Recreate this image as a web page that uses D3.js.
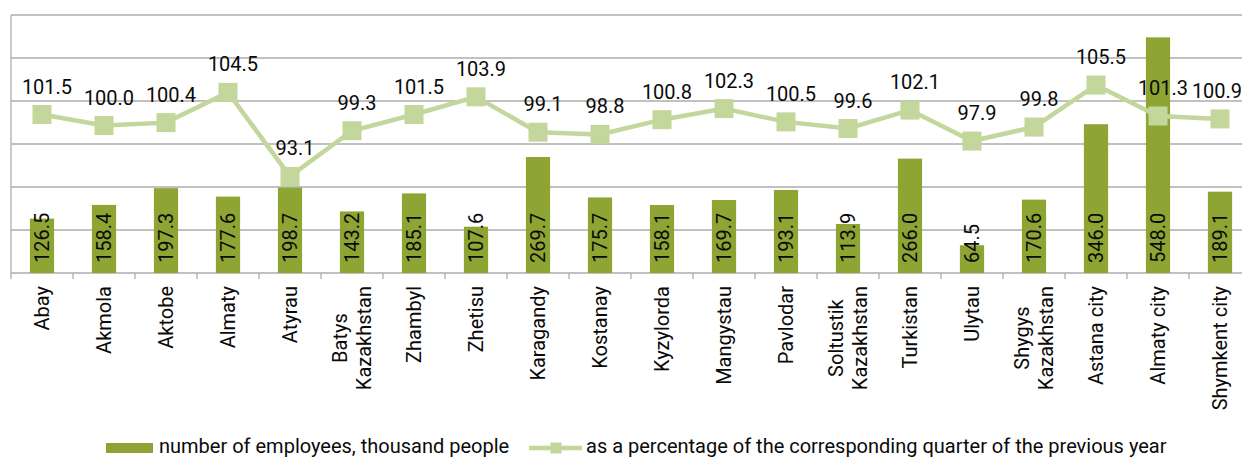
<!DOCTYPE html>
<html lang="en">
<head>
    <meta charset="UTF-8">
    <script src="https://d3js.org/d3.v7.min.js"></script>
    <title>Employees by region</title>
    <style>
        body { margin: 0; background: #fff; }
        svg text { font-family: Roboto, sans-serif; fill: #0a0a0a; font-size: 20px; }
    </style>
</head>
<body>
<svg class="chart"></svg>

<script>
    let regions = ['Abay', 'Akmola', 'Aktobe', 'Almaty', 'Atyrau', 'Batys Kazakhstan', 'Zhambyl', 'Zhetisu',
        'Karagandy', 'Kostanay', 'Kyzylorda', 'Mangystau', 'Pavlodar', 'Soltustik Kazakhstan', 'Turkistan',
        'Ulytau', 'Shygys Kazakhstan', 'Astana city', 'Almaty city', 'Shymkent city'];
    let employees = [126.5, 158.4, 197.3, 177.6, 198.7, 143.2, 185.1, 107.6, 269.7, 175.7,
        158.1, 169.7, 193.1, 113.9, 266.0, 64.5, 170.6, 346.0, 548.0, 189.1];
    let percent = [101.5, 100.0, 100.4, 104.5, 93.1, 99.3, 101.5, 103.9, 99.1, 98.8,
        100.8, 102.3, 100.5, 99.6, 102.1, 97.9, 99.8, 105.5, 101.3, 100.9];
    let leftTicks = [0, 100, 200, 300, 400, 500, 600];
    let legendNames = ['number of employees, thousand people',
        'as a percentage of the corresponding quarter of the previous year'];

    let chart_width = 1242, chart_height = 457;
    let plotLeft = 11, plotTop = 15, plotBottom = 273;
    let bandW = 62;
    let barColor = '#8ea433', lineColor = '#c3d69b', gridColor = '#acacac';

    let svg = d3.select('.chart').attr('width', chart_width).attr('height', chart_height);

    let x = d3.scaleBand()
        .domain(regions)
        .range([plotLeft, plotLeft + bandW * regions.length])
        .paddingInner(0.61)
        .paddingOuter(0.305);

    let y = d3.scaleLinear().domain([0, 600]).range([plotBottom, plotTop]);
    let y2 = d3.scaleLinear().domain([80, 115]).range([plotBottom, plotTop]);

    // grid lines
    svg.append('g').selectAll('line')
        .data(leftTicks)
        .enter()
        .append('line')
        .attr('x1', plotLeft).attr('x2', chart_width)
        .attr('y1', d => y(d)).attr('y2', d => y(d))
        .style('stroke', gridColor).style('stroke-width', 1.3);

    svg.append('line')
        .attr('x1', plotLeft).attr('x2', plotLeft)
        .attr('y1', plotTop).attr('y2', plotBottom)
        .style('stroke', gridColor).style('stroke-width', 1.3);

    // category tick marks
    svg.append('g').selectAll('line')
        .data(d3.range(regions.length + 1))
        .enter()
        .append('line')
        .attr('x1', i => plotLeft + i * bandW).attr('x2', i => plotLeft + i * bandW)
        .attr('y1', plotBottom).attr('y2', plotBottom + 6)
        .style('stroke', gridColor).style('stroke-width', 1.3);

    // bars
    svg.append('g').selectAll('rect')
        .data(employees)
        .enter()
        .append('rect')
        .attr('x', (d, i) => x(regions[i]))
        .attr('width', x.bandwidth())
        .attr('y', d => y(d))
        .attr('height', d => plotBottom - y(d))
        .style('fill', barColor);

    // bar labels
    svg.append('g').selectAll('text')
        .data(employees)
        .enter()
        .append('text')
        .attr('transform', (d, i) => 'translate(' + (x(regions[i]) + x.bandwidth() / 2) + ',263) rotate(-90)')
        .attr('dy', '0.35em')
        .text(d => d.toFixed(1));

    // line + markers
    let cx = (d, i) => x(regions[i]) + x.bandwidth() / 2;
    let line = d3.line().x(cx).y(d => y2(d));
    svg.append('path')
        .datum(percent)
        .attr('d', line)
        .style('fill', 'none')
        .style('stroke', lineColor)
        .style('stroke-width', 4.5);

    svg.append('g').selectAll('rect')
        .data(percent)
        .enter()
        .append('rect')
        .attr('x', (d, i) => cx(d, i) - 9.5)
        .attr('y', d => y2(d) - 9.5)
        .attr('width', 19).attr('height', 19)
        .style('fill', lineColor);

    // keep the last label from running off the right edge
    svg.append('g').selectAll('text')
        .data(percent)
        .enter()
        .append('text')
        .attr('x', (d, i) => Math.min(cx(d, i) + 5, chart_width - 25))
        .attr('y', d => y2(d) - 21)
        .attr('text-anchor', 'middle')
        .text(d => d.toFixed(1));

    // category labels, rotated
    let catG = svg.append('g').selectAll('g')
        .data(regions)
        .enter()
        .append('g')
        .attr('transform', d => 'translate(' + (x(d) + x.bandwidth() / 2) + ',286) rotate(-90)');

    catG.each(function (d) {
        let g = d3.select(this);
        let words = d.split(' ');
        let lines = (words.length > 1 && words[1] === 'Kazakhstan') ? words : [d];
        let texts = lines.map(function (ln, k) {
            return g.append('text')
                .attr('dy', (0.35 + (k - (lines.length - 1) / 2) * 1.2) + 'em')
                .text(ln);
        });
        if (lines.length === 1) {
            texts[0].attr('text-anchor', 'end');
        } else {
            let maxW = d3.max(texts, t => t.node().getComputedTextLength());
            texts.forEach(t => t.attr('text-anchor', 'middle').attr('x', -maxW / 2));
        }
    });

    // legend
    let legend = svg.append('g');
    legend.append('rect')
        .attr('x', 106).attr('y', 443).attr('width', 47).attr('height', 10)
        .style('fill', barColor);
    legend.append('text')
        .attr('x', 159).attr('y', 453)
        .text(legendNames[0]);
    legend.append('line')
        .attr('x1', 529).attr('x2', 582).attr('y1', 448).attr('y2', 448)
        .style('stroke', lineColor).style('stroke-width', 4.5);
    legend.append('rect')
        .attr('x', 550.5).attr('y', 442.5).attr('width', 11).attr('height', 11)
        .style('fill', lineColor);
    legend.append('text')
        .attr('x', 586).attr('y', 453)
        .text(legendNames[1]);
</script>
</body>
</html>
